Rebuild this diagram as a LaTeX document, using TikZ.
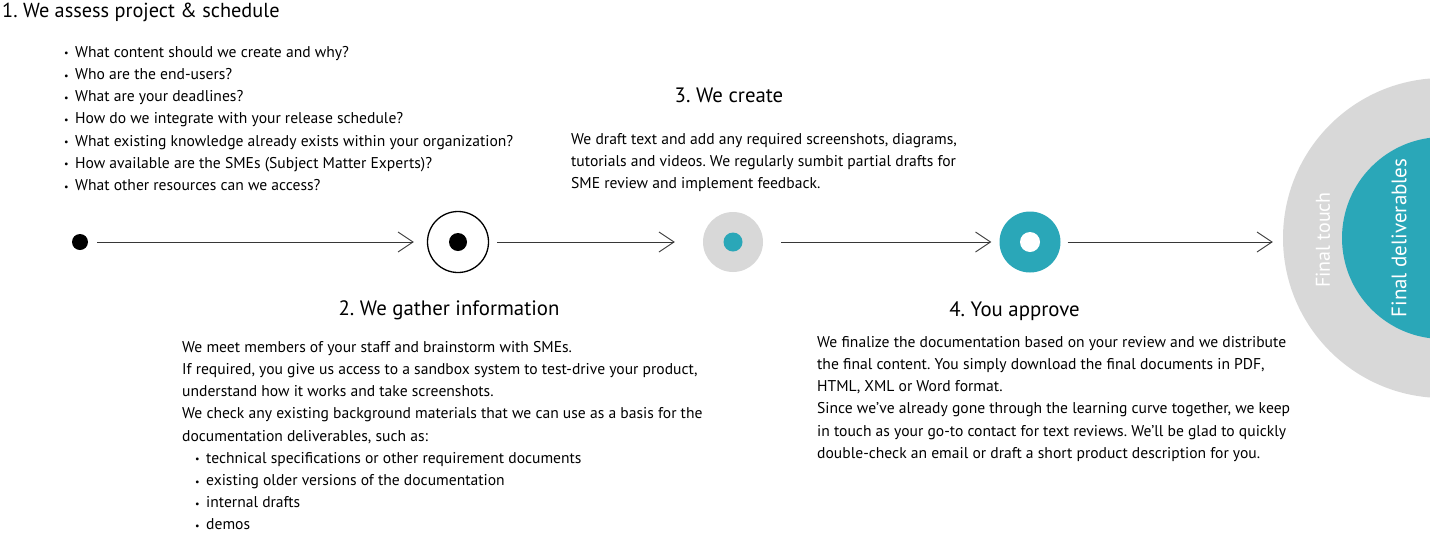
\documentclass[tikz,border=0pt]{standalone}
\usepackage{fontspec}
\setmainfont{PT Sans}
\frenchspacing
\usetikzlibrary{arrows.meta,positioning}
\definecolor{StepTeal}{RGB}{42,167,184}
\definecolor{StepGray}{RGB}{216,216,216}
\definecolor{LineGray}{RGB}{55,55,55}
\newcommand{\bul}{\makebox[11pt][l]{\fontsize{10}{10}\selectfont\raisebox{0.5pt}{•}}}

\tikzset{
  heading/.style={anchor=base, inner sep=0, font=\fontsize{20.8}{24}\selectfont},
  para/.style={anchor=north west, align=left, inner sep=0,
    font=\fontsize{15.6}{22.2}\selectfont},
  flow/.style={draw=LineGray, line width=0.9pt,
    -{Straight Barb[length=15pt,width=20pt,line width=0.9pt]}},
  dot/.style={circle, inner sep=0, minimum size=#1},
}

\begin{document}
\begin{tikzpicture}[x=1pt,y=-1pt]
  \useasboundingbox (0,0) rectangle (1430,539);

  % stations on the line
  \node[dot=16, fill=black] (start) at (80,242) {};
  \node[dot=61, draw=black, line width=1.3pt] (gather) at (458,242) {};
  \node[dot=18, fill=black] (gatherdot) at (gather) {};
  \node[dot=60, fill=StepGray] (create) at (733,242) {};
  \node[dot=19, fill=StepTeal] (createdot) at (create) {};
  \node[dot=61, fill=StepTeal] (approve) at (1030,242) {};
  \node[dot=20, fill=white] (approvedot) at (approve) {};

  % final circles, cut by the right edge
  \begin{scope}
    \clip (0,0) rectangle (1430,539);
    \node[dot=320, fill=StepGray] (touch) at (1443,238) {};
    \node[dot=202, fill=StepTeal] (deliver) at (1443,238) {};
  \end{scope}
  \node[rotate=90, text=white, font=\fontsize{20}{24}\selectfont] (touchlbl) at (1323,240) {Final touch};
  \node[rotate=90, text=white, font=\fontsize{21}{26}\selectfont] (deliverlbl) at (1399,238) {Final deliverables};

  \draw[flow, shorten <=9pt, shorten >=13pt] (start) -- (gather);
  \draw[flow, shorten <=8pt, shorten >=28pt] (gather) -- (create);
  \draw[flow, shorten <=18pt, shorten >=8pt] (create) -- (approve);
  \draw[flow, shorten <=7pt, shorten >=10pt] (approve) -- (approve -| touch.west);

  % step 1
  \node[anchor=base west, inner sep=0, font=\fontsize{20.3}{24}\selectfont] (assesshd) at (2,17) {1. We assess project \& schedule};
  \node[para] (assesstxt) at (64,46) {\bul What content should we create and why?\\
    \bul Who are the end-users?\\
    \bul What are your deadlines?\\
    \bul How do we integrate with your release schedule?\\
    \bul What existing knowledge already exists within your organization?\\
    \bul How available are the SMEs (Subject Matter Experts)?\\
    \bul What other resources can we access?};

  % step 2
  \node[heading] (gatherhd) at (449,315) {2. We gather information};
  \node[para] (gathertxt) at (182,341) {We meet members of your staff and brainstorm with SMEs.\\
    If required, you give us access to a sandbox system to test-drive your product,\\
    understand how it works and take screenshots.\\
    We check any existing background materials that we can use as a basis for the\\
    documentation deliverables, such as:\\
    \hspace*{13pt}\bul technical specifications or other requirement documents\\
    \hspace*{13pt}\bul existing older versions of the documentation\\
    \hspace*{13pt}\bul internal drafts\\
    \hspace*{13pt}\bul demos};

  % step 3
  \node[heading] (createhd) at (729,102) {3. We create};
  \node[para] (createtxt) at (571,133) {We draft text and add any required screenshots, diagrams,\\
    tutorials and videos. We regularly sumbit partial drafts for\\
    SME review and implement feedback.};

  % step 4
  \node[heading] (approvehd) at (1014.5,316) {4. You approve};
  \node[para] (approvetxt) at (817,336) {We finalize the documentation based on your review and we distribute\\
    the final content. You simply download the final documents in PDF,\\
    HTML, XML or Word format.\\
    Since we’ve already gone through the learning curve together, we keep\\
    in touch as your go-to contact for text reviews. We’ll be glad to quickly\\
    double-check an email or draft a short product description for you.};
\end{tikzpicture}
\end{document}
